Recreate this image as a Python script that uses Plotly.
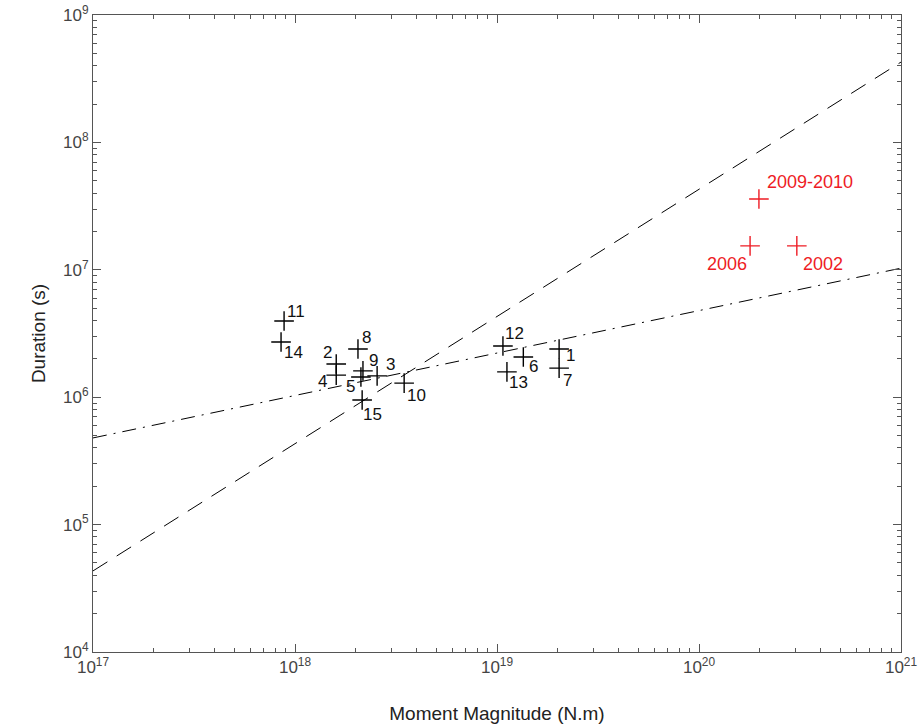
import numpy as np
import plotly.graph_objects as go

# Event data (black crosses)
event_labels = ["1", "2", "3", "4", "5", "6", "7", "8", "9", "10", "11", "12", "13", "14", "15"]
event_moment = [2.03e19, 1.60e18, 2.55e18, 1.60e18, 2.12e18, 1.35e19, 2.03e19, 2.05e18, 2.17e18,
                3.47e18, 8.83e17, 1.07e19, 1.12e19, 8.53e17, 2.15e18]
event_duration = [2.39e6, 1.82e6, 1.47e6, 1.49e6, 1.44e6, 2.07e6, 1.69e6, 2.39e6, 1.61e6,
                  1.29e6, 3.96e6, 2.52e6, 1.58e6, 2.71e6, 9.5e5]

# Large events (red crosses)
big_labels = ["2009-2010", "2006", "2002"]
big_moment = [1.98e20, 1.79e20, 3.05e20]
big_duration = [3.6e7, 1.54e7, 1.54e7]

# Scaling lines
line_moment = [1e17, 1e21]
linear_duration = [4.33e4, 4.27e8]
cuberoot_duration = [4.79e5, 1.03e7]

# Axis ticks
x_tickvals = [1e17, 1e18, 1e19, 1e20, 1e21]
x_ticktext = ["10<sup>17</sup>", "10<sup>18</sup>", "10<sup>19</sup>", "10<sup>20</sup>", "10<sup>21</sup>"]
y_tickvals = [1e4, 1e5, 1e6, 1e7, 1e8, 1e9]
y_ticktext = ["10<sup>4</sup>", "10<sup>5</sup>", "10<sup>6</sup>", "10<sup>7</sup>", "10<sup>8</sup>", "10<sup>9</sup>"]

# label offsets (pixels): (dx, dy), dy positive = up
event_offsets = {
    "1": (11, -7), "2": (-9, 12), "3": (13, 11), "4": (-14, -6), "5": (-10, -9),
    "6": (10, -10), "7": (8, -12), "8": (9, 11), "9": (11, 10), "10": (12, -12),
    "11": (12, 10), "12": (12, 13), "13": (12, -11), "14": (12, -10), "15": (10, -14),
}
big_offsets = {"2009-2010": (51, 17), "2006": (-23, -18), "2002": (26, -18)}

FONT = "Liberation Sans, Arial, Helvetica"
RED = "#ee1c25"

fig = go.Figure()

fig.add_trace(go.Scatter(x=line_moment, y=linear_duration, mode="lines",
                         line=dict(color="black", width=1, dash="17px,11px"),
                         showlegend=False, hoverinfo="skip"))
fig.add_trace(go.Scatter(x=line_moment, y=cuberoot_duration, mode="lines",
                         line=dict(color="black", width=1, dash="14px,7px,2px,7px"),
                         showlegend=False, hoverinfo="skip"))

fig.add_trace(go.Scatter(x=event_moment, y=event_duration, mode="markers",
                         marker=dict(symbol="cross-thin", size=14,
                                     line=dict(color="black", width=1.4)),
                         showlegend=False))
fig.add_trace(go.Scatter(x=big_moment, y=big_duration, mode="markers",
                         marker=dict(symbol="cross-thin", size=14,
                                     line=dict(color=RED, width=1.4)),
                         showlegend=False))

for lab, xm, yd in zip(event_labels, event_moment, event_duration):
    dx, dy = event_offsets[lab]
    fig.add_annotation(x=np.log10(xm), y=np.log10(yd), xref="x", yref="y", text=lab,
                       showarrow=False, xshift=dx, yshift=dy,
                       font=dict(family=FONT, size=17, color="#111111"))
for lab, xm, yd in zip(big_labels, big_moment, big_duration):
    dx, dy = big_offsets[lab]
    fig.add_annotation(x=np.log10(xm), y=np.log10(yd), xref="x", yref="y", text=lab,
                       showarrow=False, xshift=dx, yshift=dy,
                       font=dict(family=FONT, size=18, color=RED))

axis_common = dict(
    type="log", showgrid=False, zeroline=False, showline=True, linecolor="#555555",
    linewidth=1, mirror="ticks", ticks="inside", ticklen=8, tickcolor="#555555",
    automargin=False, ticklabeloverflow="allow",
    tickfont=dict(family=FONT, size=17, color="#444444"),
    minor=dict(ticks="inside", ticklen=4, tickcolor="#555555", dtick="D1", showgrid=False),
)

fig.update_xaxes(range=[17, 21], tickvals=x_tickvals, ticktext=x_ticktext,
                 title=dict(text="Moment Magnitude (N.m)", standoff=30,
                            font=dict(family=FONT, size=19, color="#222222")),
                 **axis_common)
fig.update_yaxes(range=[4, 9], tickvals=y_tickvals, ticktext=y_ticktext,
                 title=dict(text="Duration (s)", standoff=12,
                            font=dict(family=FONT, size=19, color="#222222")),
                 **axis_common)

fig.update_layout(
    width=919, height=726,
    margin=dict(l=93, r=18, t=15, b=74),
    plot_bgcolor="white", paper_bgcolor="white",
)

fig.write_html("out.html", config={"displayModeBar": False},
               post_script="document.body.style.margin='0';")
